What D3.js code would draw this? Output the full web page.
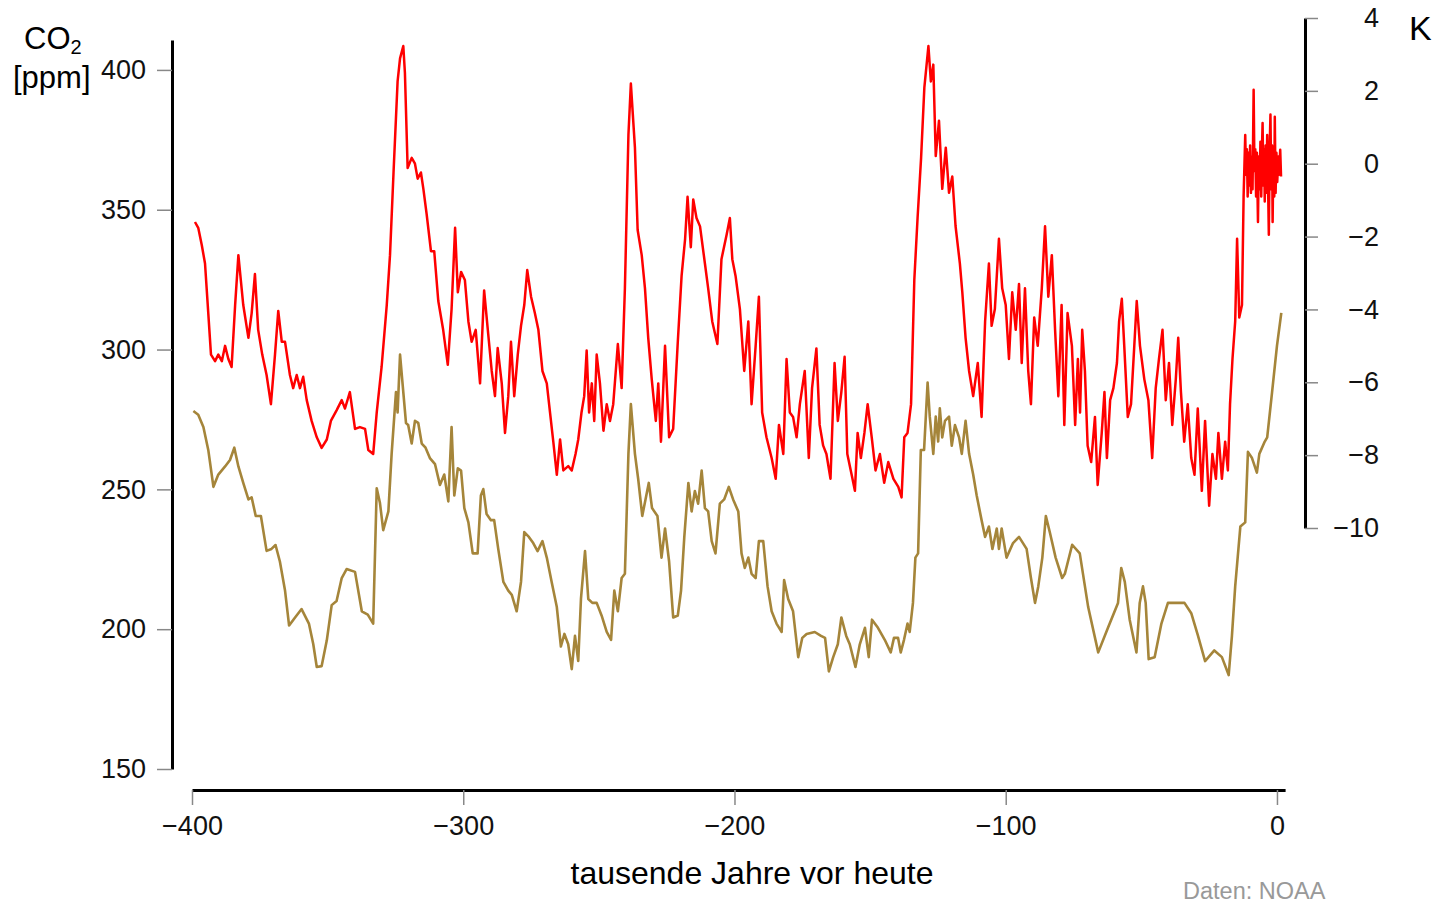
<!DOCTYPE html>
<html>
<head>
<meta charset="utf-8">
<script src="https://cdn.jsdelivr.net/npm/d3@7"></script>
<style>
  html, body { margin: 0; padding: 0; background: #fff; }
  svg { display: block; font-family: "Liberation Sans", Arial, Helvetica, sans-serif; }
</style>
</head>
<body>
<svg id="chart" width="1443" height="903"></svg>
<script>
// ---- Data ----
// Temperature anomaly (K), Vostok, thousand years before present
const tempYears = [
-398.9,-397.7,-396.4,-395.2,-394.0,-393.0,-391.5,-390.3,-389.0,-387.8,-386.6,-385.4,-384.1,-382.9,-381.1,-379.2,-378.0,-376.8,-375.6,-374.1,
-372.5,-370.9,-369.4,-368.2,-366.9,-365.7,-363.9,-362.7,-361.4,-360.2,-359.0,-357.7,-355.9,-354.0,-352.2,-350.3,-348.8,-346.7,-344.8,-343.6,
-341.8,-339.9,-338.1,-336.2,-335.0,-333.2,-331.9,-330.1,-328.2,-327.0,-325.7,-324.2,-323.3,-322.1,-321.5,-320.5,-319.0,-317.8,-316.8,-315.6,
-314.7,-313.5,-311.9,-310.7,-309.2,-307.4,-305.7,-304.3,-303.0,-302.0,-300.8,-299.4,-298.1,-296.9,-295.4,-293.8,-292.3,-290.8,-289.5,-288.3,
-287.3,-285.8,-284.6,-283.4,-282.4,-281.2,-279.9,-278.7,-277.5,-276.4,-275.0,-273.6,-272.3,-270.8,-269.2,-268.0,-266.8,-265.5,-264.3,-263.1,
-261.3,-260.0,-258.6,-257.6,-256.4,-255.4,-254.5,-253.6,-252.6,-251.7,-250.8,-249.6,-248.3,-247.1,-245.9,-244.7,-243.0,-241.6,-240.4,-239.1,
-238.2,-236.7,-235.7,-234.2,-233.0,-231.8,-230.5,-229.0,-228.1,-227.1,-225.6,-224.1,-222.6,-220.9,-219.5,-218.2,-217.3,-216.1,-215.2,-214.0,
-212.7,-210.9,-209.7,-208.2,-206.3,-204.8,-202.9,-201.7,-200.8,-199.6,-198.0,-196.4,-194.9,-193.7,-192.2,-191.0,-189.8,-188.2,-186.3,-184.8,
-183.6,-182.0,-180.8,-179.6,-178.4,-177.1,-175.9,-174.1,-172.6,-171.4,-169.8,-168.6,-167.3,-166.1,-164.6,-163.1,-161.9,-160.6,-159.4,-158.4,
-156.8,-155.6,-154.6,-153.4,-152.1,-150.9,-149.4,-148.0,-146.4,-144.8,-143.3,-141.4,-139.6,-138.4,-137.4,-136.2,-134.9,-133.7,-132.5,-131.2,
-130.0,-128.5,-127.6,-126.7,-125.8,-124.6,-123.4,-122.1,-120.9,-119.7,-118.5,-116.9,-116.0,-114.8,-113.5,-112.0,-110.3,-108.9,-107.6,-106.2,
-105.2,-104.0,-102.5,-101.3,-100.0,-98.8,-97.6,-96.3,-95.1,-94.1,-92.9,-91.7,-90.7,-89.5,-88.2,-86.7,-85.5,-84.3,-83.0,-81.8,
-80.6,-79.4,-78.4,-77.2,-75.6,-74.4,-73.4,-72.6,-71.8,-70.8,-69.8,-68.5,-67.1,-66.1,-64.6,-63.6,-62.7,-61.5,-60.3,-59.0,
-58.2,-57.2,-56.3,-55.0,-53.8,-52.6,-51.7,-50.5,-48.9,-47.4,-46.0,-44.7,-43.5,-42.2,-41.0,-39.8,-38.6,-37.3,-36.4,-35.4,
-34.2,-32.9,-31.6,-30.4,-29.2,-27.7,-26.5,-25.0,-23.8,-22.5,-21.6,-20.3,-19.1,-18.1,-17.3,-16.4,-15.4,-14.7,-13.9,-12.9,
-12.3,-11.7,-11.4,-11.1,-10.8,-10.5,-10.2,-9.9,-9.6,-9.3,-9.0,-8.6,-8.3,-8.0,-7.7,-7.4,-7.0,-6.7,-6.4,-6.1,
-5.8,-5.5,-5.3,-5.0,-4.7,-4.5,-4.2,-3.9,-3.6,-3.3,-3.0,-2.7,-2.4,-2.1,-1.8,-1.6,-1.3,-1.0,-0.8,-0.5,
-0.2,0.1,0.5,0.8,1.2,1.5
];
const tempValues = [
-1.60,-1.76,-2.23,-2.74,-4.10,-5.24,-5.42,-5.24,-5.42,-5.00,-5.36,-5.58,-3.88,-2.51,-3.88,-4.78,-4.10,-3.03,-4.56,-5.24,
-5.80,-6.60,-5.24,-4.04,-4.89,-4.89,-5.80,-6.16,-5.80,-6.16,-5.85,-6.49,-7.06,-7.51,-7.80,-7.57,-7.06,-6.77,-6.49,-6.72,
-6.27,-7.28,-7.23,-7.28,-7.86,-7.97,-6.83,-5.58,-3.88,-2.51,-0.24,2.26,2.89,3.23,2.49,-0.12,0.16,0.00,-0.41,-0.24,
-0.69,-1.38,-2.40,-2.40,-3.77,-4.56,-5.52,-3.99,-1.76,-3.53,-2.97,-3.19,-4.33,-4.89,-4.56,-6.03,-3.48,-4.67,-5.69,-6.38,
-5.06,-6.03,-7.39,-6.38,-4.89,-6.38,-5.24,-4.45,-3.88,-2.92,-3.65,-4.10,-4.56,-5.69,-6.03,-6.83,-7.63,-8.54,-7.57,-8.42,
-8.30,-8.42,-7.97,-7.57,-6.83,-6.38,-5.13,-6.83,-6.03,-7.06,-5.24,-6.03,-7.33,-6.60,-7.06,-6.60,-4.95,-6.16,-3.42,0.79,
2.20,0.44,-1.82,-2.51,-3.42,-4.78,-5.92,-7.06,-6.03,-7.63,-5.00,-7.51,-7.28,-4.89,-3.08,-2.06,-0.91,-2.29,-0.98,-1.49,
-1.72,-2.74,-3.42,-4.33,-4.95,-2.62,-1.95,-1.49,-2.62,-3.08,-3.99,-5.69,-4.33,-6.60,-5.00,-3.65,-6.83,-7.51,-8.08,-8.65,
-7.17,-7.97,-5.36,-6.83,-6.95,-7.51,-6.60,-5.69,-8.08,-6.16,-5.07,-7.17,-7.74,-7.97,-8.65,-5.47,-7.06,-6.27,-5.30,-7.97,
-8.54,-8.98,-7.39,-8.08,-7.39,-6.60,-7.51,-8.42,-7.97,-8.76,-8.19,-8.65,-8.87,-9.16,-7.51,-7.39,-6.60,-3.19,-1.49,0.16,
2.09,3.23,2.26,2.72,0.21,1.18,-0.69,0.44,-0.80,-0.35,-1.71,-2.74,-3.53,-4.78,-5.69,-6.38,-5.47,-6.95,-4.33,-2.74,
-4.45,-3.99,-2.06,-3.42,-3.88,-5.36,-3.53,-4.56,-3.30,-5.47,-3.42,-5.69,-6.60,-4.22,-5.00,-3.42,-1.72,-3.65,-2.51,-4.56,
-6.38,-3.88,-7.17,-4.10,-5.00,-7.17,-5.36,-6.83,-4.56,-5.69,-7.74,-8.19,-6.95,-8.82,-7.39,-6.27,-8.08,-6.49,-6.16,-5.47,
-4.33,-3.71,-5.00,-6.95,-6.60,-5.00,-3.77,-5.00,-5.92,-6.49,-8.08,-6.16,-5.36,-4.56,-6.49,-5.47,-7.17,-5.92,-4.78,-6.27,
-7.63,-6.60,-8.08,-8.54,-6.72,-8.98,-7.06,-9.39,-7.97,-8.65,-7.39,-8.65,-7.63,-8.42,-6.60,-5.36,-4.33,-2.06,-4.22,-3.88,
-0.91,0.79,-0.30,0.40,-0.90,0.30,-0.60,0.50,-0.80,0.20,-0.70,2.03,-0.20,0.40,-0.90,0.30,-1.60,0.20,-0.70,0.60,
-0.90,0.50,1.12,-0.60,0.40,-1.04,0.50,-0.80,0.79,-0.50,-1.95,0.40,1.35,-0.70,0.50,-1.60,0.40,-0.90,1.29,-0.80,
0.30,-0.50,0.20,-0.30,0.38,-0.35
];
// CO2 concentration (ppm)
const co2Years = [
-399.5,-397.7,-395.8,-394.0,-392.1,-390.3,-387.8,-386.0,-384.4,-382.9,-381.1,-379.2,-378.0,-376.5,-374.6,-372.5,-370.7,-369.2,-367.6,-365.7,
-364.2,-362.0,-359.6,-356.9,-355.3,-354.0,-352.2,-350.3,-348.5,-346.7,-344.8,-343.0,-339.9,-337.4,-335.2,-333.2,-331.9,-330.7,-329.5,-327.6,
-326.4,-324.8,-324.2,-323.3,-322.1,-321.1,-320.3,-319.0,-317.8,-316.6,-315.3,-313.9,-312.3,-310.4,-308.6,-307.0,-305.5,-304.3,-303.3,-302.0,
-300.8,-299.6,-298.1,-296.5,-294.7,-293.5,-292.6,-291.4,-289.8,-288.6,-287.1,-285.2,-283.4,-282.1,-280.3,-278.7,-277.5,-275.8,-274.2,-272.6,
-270.8,-269.2,-267.4,-265.5,-264.0,-262.7,-261.3,-260.0,-258.8,-257.6,-256.6,-255.1,-253.9,-252.4,-250.8,-249.0,-247.1,-245.5,-244.3,-243.0,
-241.6,-240.4,-239.1,-238.2,-236.7,-235.5,-234.0,-232.8,-231.6,-230.4,-228.4,-226.9,-225.6,-224.1,-222.6,-220.9,-219.7,-218.5,-217.0,-215.8,
-214.6,-213.4,-212.1,-210.9,-209.7,-208.4,-207.0,-205.4,-203.8,-202.1,-200.5,-198.6,-197.4,-196.2,-194.9,-193.7,-192.2,-191.0,-189.4,-187.8,
-186.3,-184.5,-182.6,-181.7,-180.2,-178.4,-176.5,-175.0,-173.4,-170.4,-168.1,-166.6,-165.2,-163.6,-161.9,-160.6,-158.8,-157.5,-155.4,-153.8,
-151.9,-150.5,-149.3,-147.1,-144.6,-142.4,-141.2,-139.7,-138.7,-137.5,-136.2,-135.4,-134.2,-133.3,-132.3,-131.3,-130.1,-128.8,-128.0,-126.7,
-125.8,-124.9,-124.3,-123.4,-122.4,-120.9,-119.9,-118.7,-117.2,-116.2,-114.8,-113.5,-112.0,-110.7,-108.9,-107.6,-106.2,-104.9,-103.3,-102.5,
-101.5,-99.7,-97.3,-95.1,-92.3,-90.7,-89.2,-88.0,-86.5,-85.2,-83.7,-81.6,-79.2,-78.2,-75.5,-72.7,-69.6,-65.9,-62.3,-58.6,
-57.4,-56.1,-54.3,-51.8,-50.6,-49.4,-48.4,-47.3,-45.1,-42.6,-40.2,-37.1,-34.1,-31.6,-29.1,-26.5,-23.1,-20.3,-17.8,-16.6,
-15.4,-13.5,-11.7,-10.7,-9.2,-7.4,-6.5,-4.5,-3.6,-1.8,0.0,1.6
];
const co2Values = [
278,276.7,272.3,264.1,250.9,255.3,258.2,260.5,264.9,258.2,252.3,246.4,247.1,240.5,240.5,228,228.7,230.1,224.2,213.8,
201.3,204.2,207.2,202,194.7,186.5,186.8,196,208.6,210.1,218.3,221.5,220.5,206.4,205.2,202,250.4,245.1,235.4,242.1,
262.7,284.8,277.5,298.2,284.8,273.7,273,266.4,274.5,273.8,266.4,264.9,261.2,259,251.6,255.3,245.7,272.3,247.8,257.5,
256.7,243.3,238.2,227.1,227.1,247.8,250.1,241.2,239,239,228.7,216.9,213.8,212.3,206.4,216.9,234.7,233,230.8,227.9,
231.5,225.6,216.9,207.9,193.8,198.3,194.6,185.7,197.6,188.6,210.8,227.9,210.8,209.4,209.4,204.9,199,196.2,213.8,206.4,
218.3,219.8,262.7,280.5,262.7,253.7,240.5,246.4,252.3,243.3,240.5,225.6,236,224.2,204.2,204.9,213.8,233,252.3,242.1,
249.4,244.9,256.7,243.3,242.1,231.5,227.1,244.9,246.4,250.9,246.4,242.1,227.1,221.9,225.6,219.8,218.3,231.5,231.5,215.3,
206.4,202,199,217.6,210.8,206.4,190,196.9,198.3,199,197.6,196.9,184.9,190,194.6,204.2,197.6,194.6,186.5,194.6,
200.5,190,203.4,200.5,196.2,191.7,196.9,196.9,191.7,196.2,202,199,209.4,225.6,227.1,264.1,264.1,288.2,276,262.7,
276,267.1,279,268.6,274.5,276,265.6,273,268.6,262.7,274.5,262.7,255.3,247.8,239,233,236.7,228.7,236,228.7,
236,225.6,230.8,233,228.7,218.3,209.4,215.3,225.6,240.5,234.5,225.6,218.3,219.8,230.2,227.1,207.9,191.7,200.5,209.4,
221.9,216.9,203.4,191.7,209.4,215.3,209.4,189.3,190,202,209.4,209.4,209.4,205.7,197.6,188.6,192.4,190,183.6,197.6,
215.3,236.7,238.2,263.4,261.2,256,262.7,267.1,268.6,284.8,301.3,313.1
];
// Tick labels
const xTicks = [-400, -300, -200, -100, 0];
const co2Ticks = [150, 200, 250, 300, 350, 400];
const tempTicks = [-10, -8, -6, -4, -2, 0, 2, 4];

// ---- Drawing ----
const svg = d3.select("#chart");
const FONT = '"Liberation Sans", Arial, Helvetica, sans-serif';

const x = d3.scaleLinear().domain([-400, 3]).range([192, 1285.1]);
const yCO2 = d3.scaleLinear().domain([150, 410.7]).range([769, 40]);
const yT = d3.scaleLinear().domain([-10, 4]).range([528, 18]);

const fmt = d3.format("");

function styleAxis(g) {
  g.select(".domain").attr("stroke", "#000").attr("stroke-width", 3);
  g.selectAll(".tick line").attr("stroke", "#888").attr("stroke-width", 1.5);
  g.selectAll(".tick text").attr("fill", "#111").style("font-family", FONT).style("font-size", "27px");
}

// Left axis (CO2)
const gL = svg.append("g").attr("transform", "translate(172,0)")
  .call(d3.axisLeft(yCO2).tickValues(co2Ticks).tickSize(15).tickSizeOuter(0).tickPadding(11).tickFormat(fmt));
styleAxis(gL);

// Right axis (temperature)
const gR = svg.append("g").attr("transform", "translate(1305,0)")
  .call(d3.axisRight(yT).tickValues(tempTicks).tickSize(13).tickSizeOuter(0).tickFormat(fmt));
styleAxis(gR);
gR.selectAll(".tick text").attr("text-anchor", "end").attr("x", 74);

// Bottom axis
const gB = svg.append("g").attr("transform", "translate(0,790)")
  .call(d3.axisBottom(x).tickValues(xTicks).tickSize(15).tickSizeOuter(0).tickPadding(11).tickFormat(fmt));
styleAxis(gB);

// Series
const co2Data = co2Years.map((yr, i) => [yr, co2Values[i]]);
const tempData = tempYears.map((yr, i) => [yr, tempValues[i]]);

svg.append("path")
  .datum(co2Data)
  .attr("fill", "none")
  .attr("stroke", "#a5853a")
  .attr("stroke-width", 2.6)
  .attr("stroke-linejoin", "round")
  .attr("d", d3.line().x(d => x(d[0])).y(d => yCO2(d[1])));

svg.append("path")
  .datum(tempData)
  .attr("fill", "none")
  .attr("stroke", "#ff0000")
  .attr("stroke-width", 2.5)
  .attr("stroke-linejoin", "round")
  .attr("d", d3.line().x(d => x(d[0])).y(d => yT(d[1])));

// Axis titles
const co2Title = svg.append("text").attr("x", 24).attr("y", 49)
  .style("font-family", FONT).style("font-size", "31px").attr("fill", "#000");
co2Title.append("tspan").text("CO");
co2Title.append("tspan").attr("dy", 5).style("font-size", "20px").text("2");

svg.append("text").attr("x", 13).attr("y", 88)
  .style("font-family", FONT).style("font-size", "31px").attr("fill", "#000")
  .text("[ppm]");

svg.append("text").attr("x", 1409).attr("y", 40)
  .style("font-family", FONT).style("font-size", "34px").attr("fill", "#000")
  .text("K");

svg.append("text").attr("x", 752).attr("y", 884).attr("text-anchor", "middle")
  .style("font-family", FONT).style("font-size", "32px").attr("fill", "#000")
  .text("tausende Jahre vor heute");

svg.append("text").attr("x", 1183).attr("y", 899)
  .style("font-family", FONT).style("font-size", "23.5px").attr("fill", "#999")
  .text("Daten: NOAA");
</script>
</body>
</html>
